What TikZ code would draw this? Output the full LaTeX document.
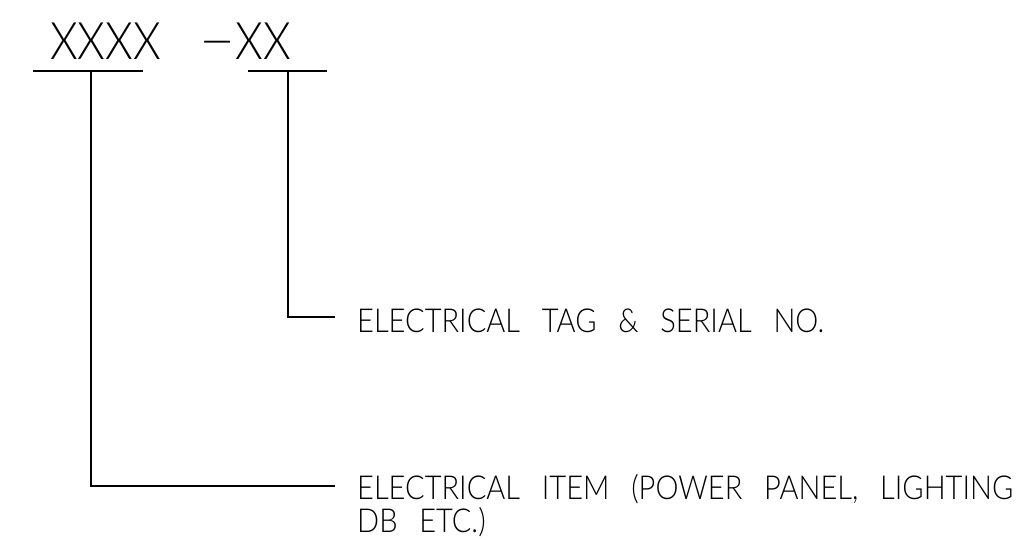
\documentclass[tikz,border=0pt]{standalone}
\usepackage{fontspec}
\setmainfont{Liberation Sans}
\newfontfamily\cad[FakeStretch=0.88,WordSpace=2.76]{Lato Light}
\newfontfamily\cadbig[FakeStretch=0.86,WordSpace=2]{Lato Light}
\begin{document}
\begin{tikzpicture}[x=1pt,y=-1pt,
  lbl/.style={font=\cad\fontsize{33}{33}\selectfont, inner sep=0pt, anchor=base west},
  big/.style={font=\cadbig\fontsize{51.7}{51.7}\selectfont, inner sep=0pt, anchor=base west},
  conn/.style={line width=1.6pt, line join=miter},
  uline/.style={line width=1.6pt}]
\useasboundingbox (0,0) rectangle (1023,540);
% top tag text
\node[big] (xa) at (50,60) {XXXX};
\node[big] (xb) at (199,60) {\scalebox{1.4}[1]{−}XX};
% underlines
\coordinate (u1l) at (33,71);
\coordinate (u1r) at (143,71);
\coordinate (u2l) at (248,71);
\coordinate (u2r) at (327,71);
\coordinate (u1) at (91,71);
\coordinate (u2) at (288,71);
\draw[uline] (u1l) -- (u1r);
\draw[uline] (u2l) -- (u2r);
% labels
\node[lbl] (lab2) at (357,332) {ELECTRICAL TAG \& SERIAL NO.};
\node[lbl] (lab1a) at (357,499) {ELECTRICAL ITEM (POWER PANEL, LIGHTING};
\node[lbl] (lab1b) at (357,532) {DB ETC.)};
\coordinate (e2) at (335,317);
\coordinate (e1) at (335,486);
% connectors
\draw[conn] (u2) |- (e2);
\draw[conn] (u1) |- (e1);
\end{tikzpicture}
\end{document}
